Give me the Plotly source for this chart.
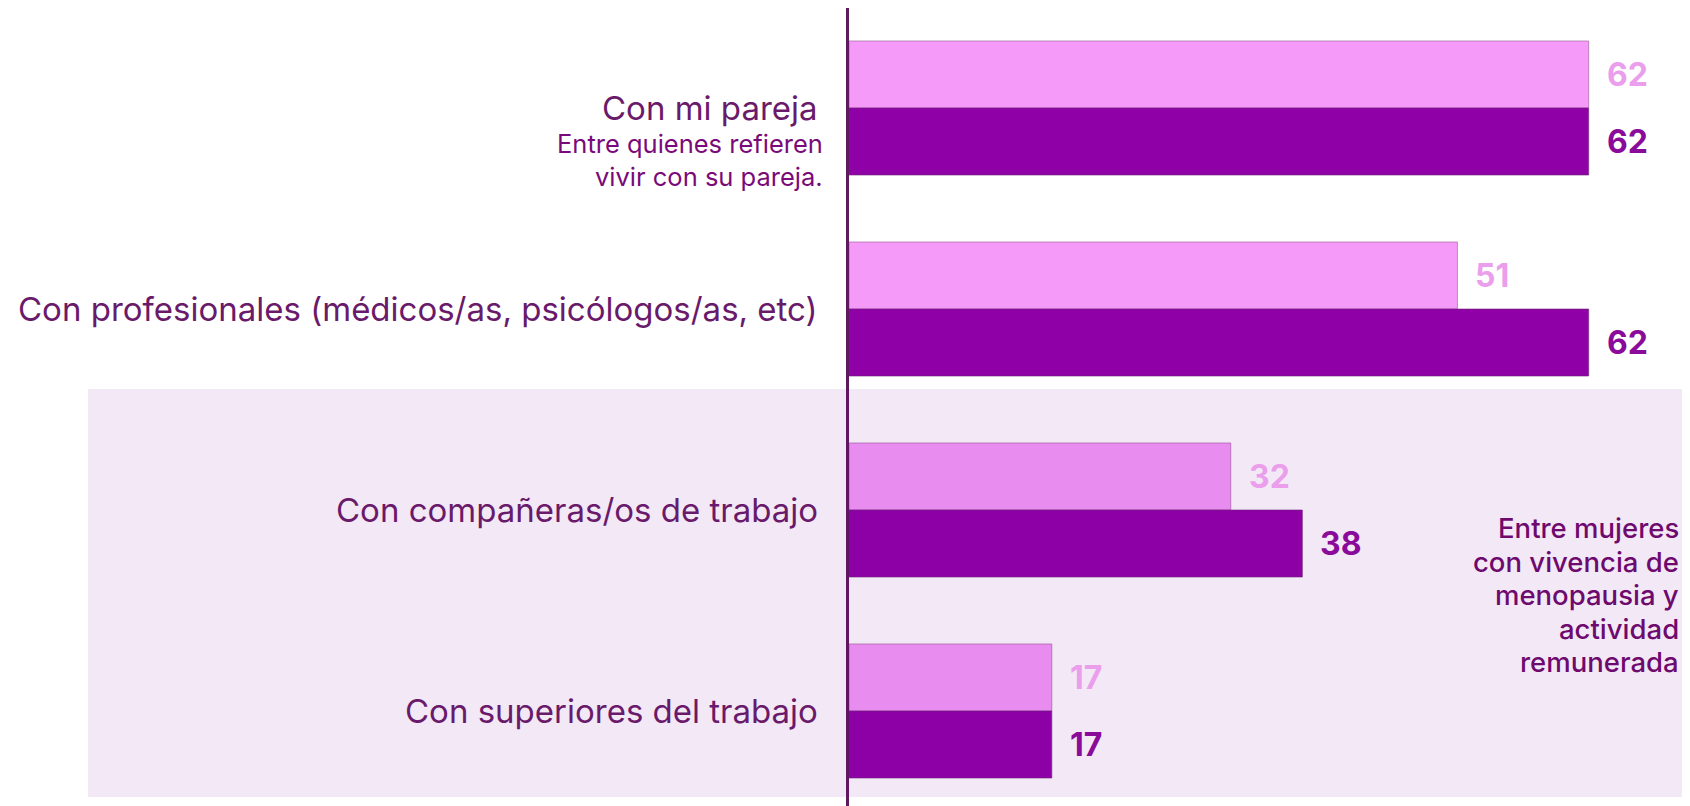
import plotly.graph_objects as go

categories = [
    "Con mi pareja",
    "Con profesionales (médicos/as, psicólogos/as, etc)",
    "Con compañeras/os de trabajo",
    "Con superiores del trabajo",
]
values_light = [62, 51, 32, 17]
values_dark = [62, 62, 38, 17]
subtitle_lines = ["Entre quienes refieren", "vivir con su pareja."]
note_lines = ["Entre mujeres", "con vivencia de", "menopausia y", "actividad", "remunerada"]

FONT = "Inter"
LIGHT = "#f59af8"
DARK = "#8f00a6"
LABEL_COLOR = "#6a1a6a"

# page has an 8px body margin, so the figure is 8px smaller in each direction
W, H = 1682, 798
AX = 841          # x pixel (figure) of value 0
PX_PER_UNIT = 11.93
CAT_PX = 201

fig = go.Figure()
fig.add_trace(go.Bar(
    y=categories, x=values_light, orientation="h", name="Serie A",
    marker=dict(color=LIGHT, line=dict(color="rgba(150,90,150,0.6)", width=1)),
    hoverinfo="x+y",
))
fig.add_trace(go.Bar(
    y=categories, x=values_dark, orientation="h", name="Serie B",
    marker=dict(color=DARK, line=dict(color="rgba(110,40,120,0.6)", width=1)),
    hoverinfo="x+y",
))

ann = []
for c in categories:
    ann.append(dict(x=0, y=c, xref="x", yref="y", text=c, showarrow=False,
                    xanchor="right", yanchor="middle", xshift=-29,
                    font=dict(family=FONT, size=33, color=LABEL_COLOR)))
for i, line in enumerate(subtitle_lines):
    ann.append(dict(x=0, y=categories[0], xref="x", yref="y", text=line, showarrow=False,
                    xanchor="right", yanchor="middle", xshift=-24, yshift=-35 - 33 * i,
                    font=dict(family=FONT, size=25.5, color="#7a0a7a")))
for c, v in zip(categories, values_light):
    ann.append(dict(x=v, y=c, xref="x", yref="y", text=f"<b>{v}</b>", showarrow=False,
                    xanchor="left", yanchor="middle", xshift=16, yshift=33.5,
                    font=dict(family=FONT, size=32, color="#eb9eec")))
for c, v in zip(categories, values_dark):
    ann.append(dict(x=v, y=c, xref="x", yref="y", text=f"<b>{v}</b>", showarrow=False,
                    xanchor="left", yanchor="middle", xshift=16, yshift=-33.5,
                    font=dict(family=FONT, size=32, color="#8a0a9a")))
for i, line in enumerate(note_lines):
    ann.append(dict(x=1, y=categories[2], xref="paper", yref="y", text=line, showarrow=False,
                    xanchor="right", yanchor="middle", xshift=-9, yshift=-18 - 33.5 * i,
                    font=dict(family=FONT, size=27.5, color="#6e0a6e", weight=500)))

top_units = -100 / CAT_PX
fig.update_layout(
    width=W, height=H,
    margin=dict(l=AX, r=0, t=0, b=0, pad=0),
    paper_bgcolor="white", plot_bgcolor="white",
    barmode="group", bargap=0.333, bargroupgap=0,
    showlegend=False,
    annotations=ann,
    shapes=[dict(type="rect", xref="paper", yref="paper",
                 x0=(80 - AX) / (W - AX), x1=1,
                 y0=(H - 789) / H, y1=(H - 381) / H,
                 fillcolor="rgba(122,0,155,0.09)", line=dict(width=0), layer="above")],
    xaxis=dict(range=[0, (W - AX) / PX_PER_UNIT], visible=False, fixedrange=True),
    yaxis=dict(type="category", range=[top_units + H / CAT_PX, top_units],
               showticklabels=False, ticks="", showgrid=False, zeroline=False,
               showline=True, linewidth=3, linecolor="#5c1a5c", fixedrange=True),
)

fig.write_html("out.html")
